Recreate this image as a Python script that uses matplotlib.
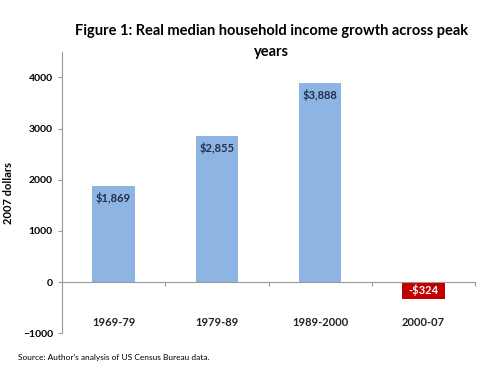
import matplotlib
matplotlib.use("Agg")
import matplotlib.pyplot as plt
import matplotlib.transforms as mtransforms

periods = ["1969-79", "1979-89", "1989-2000", "2000-07"]
growth = [1869, 2855, 3888, -324]
value_labels = ["$1,869", "$2,855", "$3,888", "-$324"]

plt.rcParams["font.family"] = ["Lato", "DejaVu Sans"]

fig = plt.figure(figsize=(4.8, 3.76), dpi=100)
ax = fig.add_axes([0.129, 0.114, 0.861, 0.748])

x = list(range(len(periods)))
colors = ["#8DB4E2" if v >= 0 else "#C00000" for v in growth]
ax.bar(x, growth, width=0.41, color=colors)

for xi, v, lab in zip(x, growth, value_labels):
    if v >= 0:
        ax.text(xi, v - 110, lab, ha="center", va="top", fontsize=8,
                fontweight="bold", color="#1F2F4F")
    else:
        ax.text(xi, v / 2, lab, ha="center", va="center", fontsize=8,
                fontweight="bold", color="white")

ax.set_xlim(-0.5, len(periods) - 0.5)
ax.set_ylim(-1000, 4500)
ax.set_yticks([-1000, 0, 1000, 2000, 3000, 4000])
ax.tick_params(axis="y", labelsize=7.5, length=3, color="#999999")
for t in ax.get_yticklabels():
    t.set_fontweight("bold")

# category axis drawn along zero with ticks between bars
ax.spines["top"].set_visible(False)
ax.spines["right"].set_visible(False)
ax.spines["left"].set_color("#999999")
ax.spines["bottom"].set_position(("data", 0))
ax.spines["bottom"].set_color("#999999")
ax.set_xticks([i + 0.5 for i in x])
ax.tick_params(axis="x", length=3, color="#999999", labelbottom=False)

trans = mtransforms.blended_transform_factory(ax.transData, ax.transAxes)
for xi, p in zip(x, periods):
    ax.text(xi, 0.02, p, transform=trans, ha="center", va="bottom",
            fontsize=8, fontweight="bold", color="#222222")

ax.set_ylabel("2007 dollars", fontsize=8, fontweight="bold")
ax.yaxis.set_label_coords(-0.115, 0.5)

fig.text(0.565, 0.89, "Figure 1: Real median household income growth across peak\nyears",
         ha="center", va="center", fontsize=10.5, fontweight="bold",
         linespacing=1.6)
fig.text(0.038, 0.05, "Source: Author's analysis of US Census Bureau data.",
         ha="left", va="center", fontsize=6)

fig.savefig("out.png", dpi=100)
